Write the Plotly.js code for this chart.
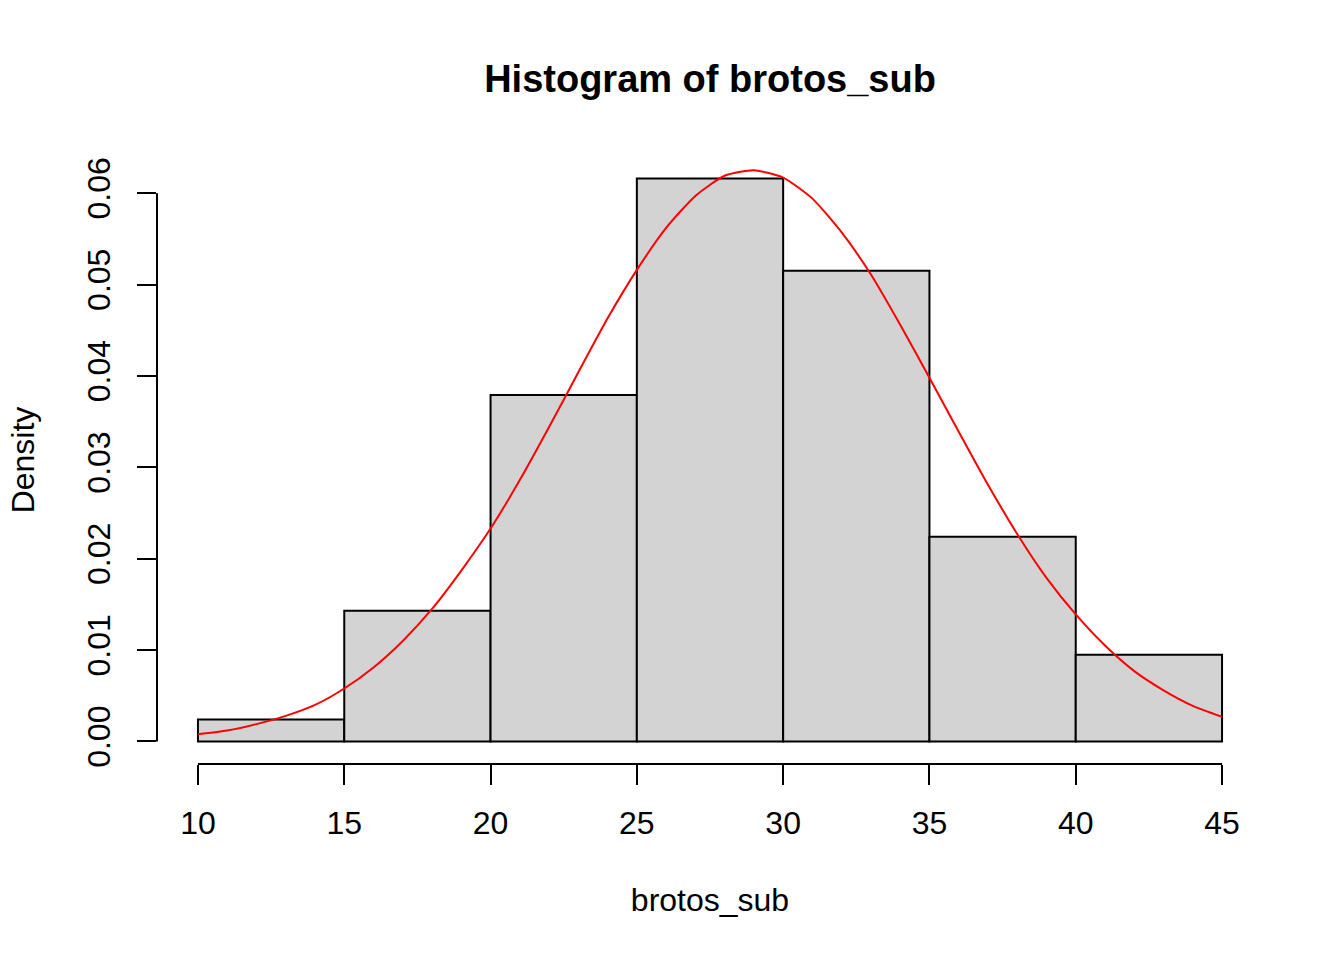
<!DOCTYPE html>
<html>
<head>
<meta charset="utf-8">
<script src="https://cdn.plot.ly/plotly-3.0.1.min.js"></script>
<style>html,body{margin:0;padding:0;background:#fff;}#chart{width:1344px;height:960px;}</style>
</head>
<body>
<div id="chart"></div>
<script>
// Histogram breaks and densities
const breaks = [10, 15, 20, 25, 30, 35, 40, 45];
const densities = [0.0024, 0.0143, 0.0379, 0.0616, 0.0515, 0.0224, 0.0095];

// Red density curve, read point by point
const curveX = [10, 11, 12, 13, 14, 15, 16, 17, 18, 19, 20, 21, 22, 23, 24, 25, 26, 27, 28, 29,
                30, 31, 32, 33, 34, 35, 36, 37, 38, 39, 40, 41, 42, 43, 44, 45];
const curveY = [0.0008, 0.0012, 0.0019, 0.0028, 0.0040, 0.0058, 0.0081, 0.0110, 0.0145, 0.0187,
                0.0233, 0.0286, 0.0344, 0.0404, 0.0463, 0.0516, 0.0562, 0.0597, 0.0619, 0.0625,
                0.0617, 0.0594, 0.0557, 0.0511, 0.0456, 0.0398, 0.0339, 0.0281, 0.0227, 0.0179,
                0.0139, 0.0105, 0.0077, 0.0056, 0.0039, 0.0027];

// Tick labels
const xTicks = [10, 15, 20, 25, 30, 35, 40, 45];
const yTicks = [0.00, 0.01, 0.02, 0.03, 0.04, 0.05, 0.06];
const yTickText = ["0.00", "0.01", "0.02", "0.03", "0.04", "0.05", "0.06"];

const titleText = "Histogram of brotos_sub";
const xLabel = "brotos_sub";
const yLabel = "Density";

const mids = densities.map((d, i) => (breaks[i] + breaks[i + 1]) / 2);
const widths = densities.map((d, i) => breaks[i + 1] - breaks[i]);

const FONT = "Liberation Sans, Arial, sans-serif";

const bars = {
  type: "bar",
  x: mids,
  y: densities,
  width: widths,
  marker: { color: "#D3D3D3", line: { color: "#000000", width: 2 } },
  hoverinfo: "skip",
  showlegend: false
};

const curve = {
  type: "scatter",
  mode: "lines",
  x: curveX,
  y: curveY,
  line: { color: "#FF0000", width: 2, shape: "spline", smoothing: 0.6 },
  hoverinfo: "skip",
  showlegend: false
};

const xPad = (breaks[breaks.length - 1] - breaks[0]) * 0.04;
const yMax = Math.max(...densities);
const yPad = yMax * 0.04;

const layout = {
  width: 1344,
  height: 960,
  paper_bgcolor: "#ffffff",
  plot_bgcolor: "#ffffff",
  margin: { l: 157, r: 81, t: 156, b: 196, pad: 0 },
  font: { family: FONT, size: 32, color: "#000000" },
  title: {
    text: "<b>" + titleText + "</b>",
    font: { family: FONT, size: 38, color: "#000000" },
    x: 0.5283, xanchor: "center", xref: "container",
    y: 1 - 79 / 960, yanchor: "middle", yref: "container"
  },
  bargap: 0,
  xaxis: {
    range: [breaks[0] - xPad, breaks[breaks.length - 1] + xPad],
    tickmode: "array",
    tickvals: xTicks,
    ticktext: xTicks.map(String),
    ticks: "outside",
    ticklen: 20,
    tickwidth: 2,
    tickcolor: "#000000",
    ticklabelstandoff: 11,
    showline: false,
    showgrid: false,
    zeroline: false,
    tickfont: { family: FONT, size: 32, color: "#000000" },
    title: { text: xLabel, font: { family: FONT, size: 32, color: "#000000" }, standoff: 48 }
  },
  yaxis: {
    range: [-yPad, yMax + yPad],
    tickmode: "array",
    tickvals: yTicks,
    ticktext: yTickText,
    ticks: "outside",
    ticklen: 19,
    tickwidth: 2,
    tickcolor: "#000000",
    tickangle: -90,
    ticklabelstandoff: 14,
    showline: false,
    showgrid: false,
    zeroline: false,
    tickfont: { family: FONT, size: 32, color: "#000000" },
    title: { text: yLabel, font: { family: FONT, size: 32, color: "#000000" }, standoff: 37 }
  },
  shapes: [
    {
      type: "line", xref: "x", yref: "paper",
      x0: xTicks[0], x1: xTicks[xTicks.length - 1], y0: 0, y1: 0,
      line: { color: "#000000", width: 2 }
    },
    {
      type: "line", xref: "paper", yref: "y",
      x0: 0, x1: 0, y0: yTicks[0], y1: yTicks[yTicks.length - 1],
      line: { color: "#000000", width: 2 }
    }
  ]
};

Plotly.newPlot("chart", [bars, curve], layout, { staticPlot: true, displayModeBar: false });
</script>
</body>
</html>
